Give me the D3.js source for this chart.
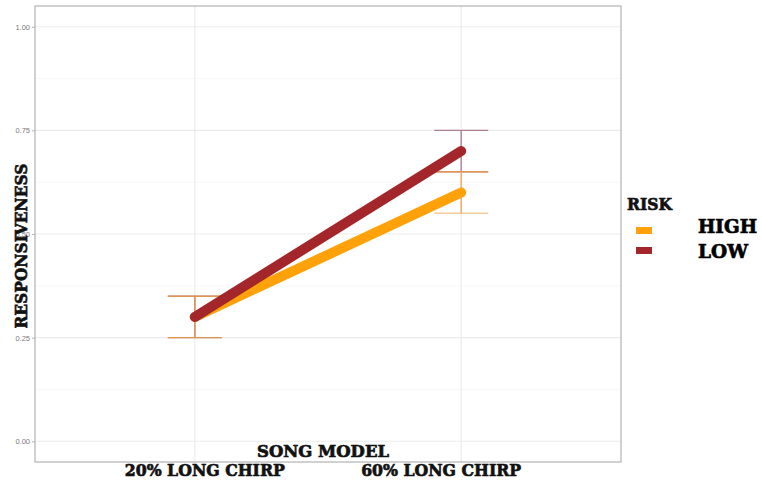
<!DOCTYPE html>
<html>
<head>
<meta charset="utf-8">
<script src="https://cdn.jsdelivr.net/npm/d3@7"></script>
<style>
  html, body { margin: 0; padding: 0; background: #fff; }
  svg { display: block; }
  .heavy { stroke: #111; stroke-width: 0.7px; paint-order: stroke; }
</style>
</head>
<body>
<svg id="chart" width="762" height="483"></svg>
<script>
// Song model categories and group means / error limits per risk level
const categories = ["20% LONG CHIRP", "60% LONG CHIRP"];
const riskLevels = ["HIGH", "LOW"];
const highMean = [0.30, 0.60];
const highLower = [0.25, 0.55];
const highUpper = [0.35, 0.65];
const lowMean = [0.30, 0.70];
const lowLower = [0.25, 0.65];
const lowUpper = [0.35, 0.75];
const yTicks = [0, 0.25, 0.5, 0.75, 1];
const yMinor = [0.125, 0.375, 0.625, 0.875];

const lineColor = { HIGH: "#ffa209", LOW: "#a3262a" };
const barColor = { HIGH: "#e89a45", LOW: "#a8738a" };

const svg = d3.select("#chart");
const panel = { left: 35, right: 621, top: 6, bottom: 462 };

const x = d3.scalePoint().domain(categories).range([panel.left, panel.right]).padding(0.6);
const y = d3.scaleLinear().domain([-0.05, 1.05]).range([panel.bottom, panel.top]);

const titleFont = "'DejaVu Serif', serif";

// grid
const g = svg.append("g");
g.selectAll(".minor").data(yMinor).join("line")
  .attr("x1", panel.left).attr("x2", panel.right)
  .attr("y1", d => y(d)).attr("y2", d => y(d))
  .attr("stroke", "#f4f4f4").attr("stroke-width", 0.6);
g.selectAll(".major").data(yTicks).join("line")
  .attr("x1", panel.left).attr("x2", panel.right)
  .attr("y1", d => y(d)).attr("y2", d => y(d))
  .attr("stroke", "#ebebeb").attr("stroke-width", 1.1);
g.selectAll(".vmajor").data(categories).join("line")
  .attr("x1", d => x(d)).attr("x2", d => x(d))
  .attr("y1", panel.top).attr("y2", panel.bottom)
  .attr("stroke", "#ebebeb").attr("stroke-width", 1.1);

// series
const series = [
  { key: "LOW", mean: lowMean, lo: lowLower, hi: lowUpper },
  { key: "HIGH", mean: highMean, lo: highLower, hi: highUpper }
];

// error bars (LOW beneath HIGH)
const capHalf = 27;
series.forEach(s => {
  const eb = svg.append("g").attr("stroke", barColor[s.key]).attr("stroke-width", 1.4)
    .attr("opacity", s.key === "HIGH" ? 0.85 : 0.9).attr("fill", "none");
  categories.forEach((c, i) => {
    const cx = x(c);
    eb.append("line").attr("x1", cx).attr("x2", cx).attr("y1", y(s.lo[i])).attr("y2", y(s.hi[i]));
    eb.append("line").attr("x1", cx - capHalf).attr("x2", cx + capHalf).attr("y1", y(s.hi[i])).attr("y2", y(s.hi[i]));
    eb.append("line").attr("x1", cx - capHalf).attr("x2", cx + capHalf).attr("y1", y(s.lo[i])).attr("y2", y(s.lo[i]))
      .attr("opacity", s.key === "HIGH" && i === 1 ? 0.6 : 1);
  });
});

// mean lines: HIGH first, LOW on top
const line = d3.line().x((d, i) => x(categories[i])).y(d => y(d));
[series[1], series[0]].forEach(s => {
  svg.append("path").datum(s.mean).attr("d", line)
    .attr("fill", "none").attr("stroke", lineColor[s.key])
    .attr("stroke-width", 10).attr("stroke-linecap", "round");
});

// panel border
svg.append("rect").attr("x", panel.left).attr("y", panel.top)
  .attr("width", panel.right - panel.left).attr("height", panel.bottom - panel.top)
  .attr("fill", "none").attr("stroke", "#b3b3b3").attr("stroke-width", 1.2);

// y axis
const yAxis = svg.append("g").attr("transform", `translate(${panel.left},0)`)
  .call(d3.axisLeft(y).tickValues(yTicks).tickFormat(d3.format(".2f")).tickSize(3).tickPadding(2));
yAxis.select(".domain").remove();
yAxis.selectAll(".tick line").attr("stroke", "#b3b3b3");
yAxis.selectAll(".tick text").attr("fill", "#7a7a7a").attr("font-size", 7.5)
  .attr("font-family", "'Liberation Sans', Arial, sans-serif");

// x tick labels
const xLabelShift = { "20% LONG CHIRP": 10, "60% LONG CHIRP": -20 };
svg.append("g").selectAll("text").data(categories).join("text")
  .attr("class", "heavy")
  .attr("x", d => x(d) + xLabelShift[d]).attr("y", 476)
  .attr("text-anchor", "middle")
  .attr("font-family", titleFont).attr("font-weight", "bold").attr("font-size", 17)
  .attr("textLength", 160).attr("lengthAdjust", "spacingAndGlyphs")
  .attr("fill", "#111").text(d => d);

// axis titles
svg.append("text").attr("class", "heavy").attr("x", 323).attr("y", 457).attr("text-anchor", "middle")
  .attr("font-family", titleFont).attr("font-weight", "bold").attr("font-size", 17)
  .attr("textLength", 132).attr("lengthAdjust", "spacingAndGlyphs")
  .attr("fill", "#111").text("SONG MODEL");

svg.append("text").attr("class", "heavy").attr("transform", "translate(27,246) rotate(-90)")
  .attr("text-anchor", "middle")
  .attr("font-family", titleFont).attr("font-weight", "bold").attr("font-size", 17)
  .attr("textLength", 165).attr("lengthAdjust", "spacingAndGlyphs")
  .attr("fill", "#111").text("RESPONSIVENESS");

// legend
const legend = svg.append("g");
legend.append("text").attr("class", "heavy").attr("x", 627).attr("y", 210)
  .attr("font-family", titleFont).attr("font-weight", "bold").attr("font-size", 16)
  .attr("textLength", 45).attr("lengthAdjust", "spacingAndGlyphs")
  .attr("fill", "#111").text("RISK");
const legendRows = [
  { key: "HIGH", sy: 227, ty: 233, w: 59 },
  { key: "LOW", sy: 247, ty: 258, w: 50 }
];
legend.selectAll("rect").data(legendRows).join("rect")
  .attr("x", 636).attr("y", d => d.sy).attr("width", 16).attr("height", 7)
  .attr("fill", d => lineColor[d.key]);
legend.selectAll(".lab").data(legendRows).join("text")
  .attr("class", "heavy")
  .attr("x", 698).attr("y", d => d.ty)
  .attr("font-family", titleFont).attr("font-weight", "bold").attr("font-size", 18)
  .attr("textLength", d => d.w).attr("lengthAdjust", "spacingAndGlyphs")
  .attr("fill", "#000").text(d => d.key);
</script>
</body>
</html>
